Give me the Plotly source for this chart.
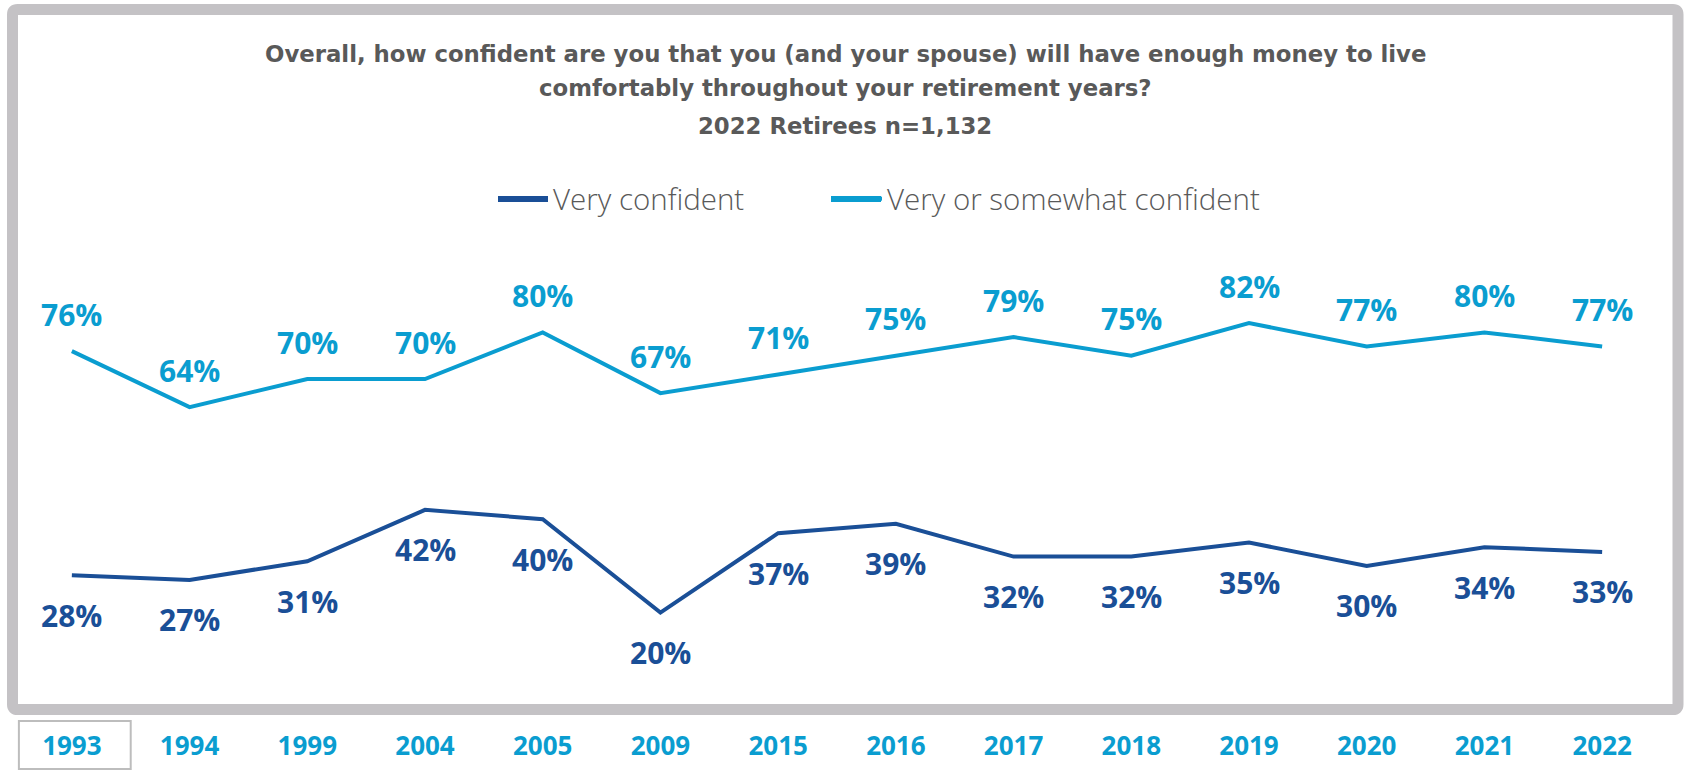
import plotly.graph_objects as go

# Survey years and shares of retirees (%)
years = ["1993", "1994", "1999", "2004", "2005", "2009", "2015",
         "2016", "2017", "2018", "2019", "2020", "2021", "2022"]
very_confident = [28, 27, 31, 42, 40, 20, 37, 39, 32, 32, 35, 30, 34, 33]
very_or_somewhat = [76, 64, 70, 70, 80, 67, 71, 75, 79, 75, 82, 77, 80, 77]

series_names = ["Very confident", "Very or somewhat confident"]
title_lines = [
    "Overall, how confident are you that you (and your spouse) will have enough money to live",
    "comfortably throughout your retirement years?",
    "2022 Retirees n=1,132",
]

DARK = "#1a4f97"
LIGHT = "#0a9dd0"
GREY_TXT = "#595959"
FONT = "Open Sans"
TITLE_FONT = "DejaVu Sans"

W, H = 1685, 770
L, R, T, B = 13, 24, 239, 64
PW, PH = W - L - R, H - T - B


def px_x(px):
    return (px - L) / PW


def px_y(py):
    return (H - B - py) / PH


fig = go.Figure()
fig.add_trace(go.Scatter(x=years, y=very_confident, mode="lines",
                         name=series_names[0], legend="legend",
                         line=dict(color=DARK, width=4)))
fig.add_trace(go.Scatter(x=years, y=very_or_somewhat, mode="lines",
                         name=series_names[1], legend="legend2",
                         line=dict(color=LIGHT, width=4)))

annotations = []
# value labels: dark series below its points, light series above
for i, v in enumerate(very_confident):
    annotations.append(dict(x=i, y=v, xref="x", yref="y", text=f"{v}%",
                            showarrow=False, yshift=-40,
                            font=dict(family=FONT, size=30, color=DARK, weight="bold")))
for i, v in enumerate(very_or_somewhat):
    annotations.append(dict(x=i, y=v, xref="x", yref="y", text=f"{v}%",
                            showarrow=False, yshift=37,
                            font=dict(family=FONT, size=30, color=LIGHT, weight="bold")))

# three-line heading
for text, py in zip(title_lines, [54, 88, 126]):
    annotations.append(dict(x=px_x(845), y=px_y(py), xref="paper", yref="paper",
                            text=text, showarrow=False, xanchor="center", yanchor="middle",
                            font=dict(family=TITLE_FONT, size=22.8, color=GREY_TXT,
                                      weight="bold")))

# rounded grey frame around the chart area
xl, xr = px_x(12.5), px_x(1678)
yt, yb = px_y(9.5), px_y(709.5)
rx, ry = 5 / PW, 5 / PH
frame = (f"M {xl+rx},{yt} L {xr-rx},{yt} Q {xr},{yt} {xr},{yt-ry} "
         f"L {xr},{yb+ry} Q {xr},{yb} {xr-rx},{yb} "
         f"L {xl+rx},{yb} Q {xl},{yb} {xl},{yb+ry} "
         f"L {xl},{yt-ry} Q {xl},{yt} {xl+rx},{yt} Z")

shapes = [
    dict(type="path", path=frame, xref="paper", yref="paper",
         line=dict(color="#c4c2c5", width=11), layer="below"),
    # highlight box around the first year label
    dict(type="rect", xref="x", yref="paper", x0=-0.45, x1=0.50,
         y0=px_y(769), y1=px_y(721),
         line=dict(color="#bdbdbd", width=2)),
]

# wider, heavier legend swatches laid over the native ones
for (x0, x1), col in zip([(498, 548), (831, 881)], [DARK, LIGHT]):
    shapes.append(dict(type="line", xref="paper", yref="paper",
                       x0=px_x(x0), x1=px_x(x1), y0=px_y(199), y1=px_y(199),
                       line=dict(color=col, width=6), layer="above"))

legend_style = dict(orientation="h", xanchor="left", yanchor="middle",
                    y=px_y(199),
                    font=dict(family=FONT, size=29.5, color=GREY_TXT, weight=300),
                    bgcolor="rgba(0,0,0,0)")

fig.update_layout(
    width=W, height=H,
    margin=dict(l=L, r=R, t=T, b=B, autoexpand=False),
    paper_bgcolor="white", plot_bgcolor="white",
    showlegend=True,
    legend=dict(x=px_x(513), **legend_style),
    legend2=dict(x=px_x(847), **legend_style),
    xaxis=dict(type="category", range=[-0.5, 13.5], showgrid=False,
               zeroline=False, showline=False, ticks="outside", ticklen=17,
               tickcolor="rgba(0,0,0,0)", automargin=False,
               tickfont=dict(family=FONT, size=26, color=LIGHT, weight="bold")),
    yaxis=dict(range=[0, 100], visible=False, automargin=False),
    annotations=annotations,
    shapes=shapes,
)

fig.write_html("out.html")
